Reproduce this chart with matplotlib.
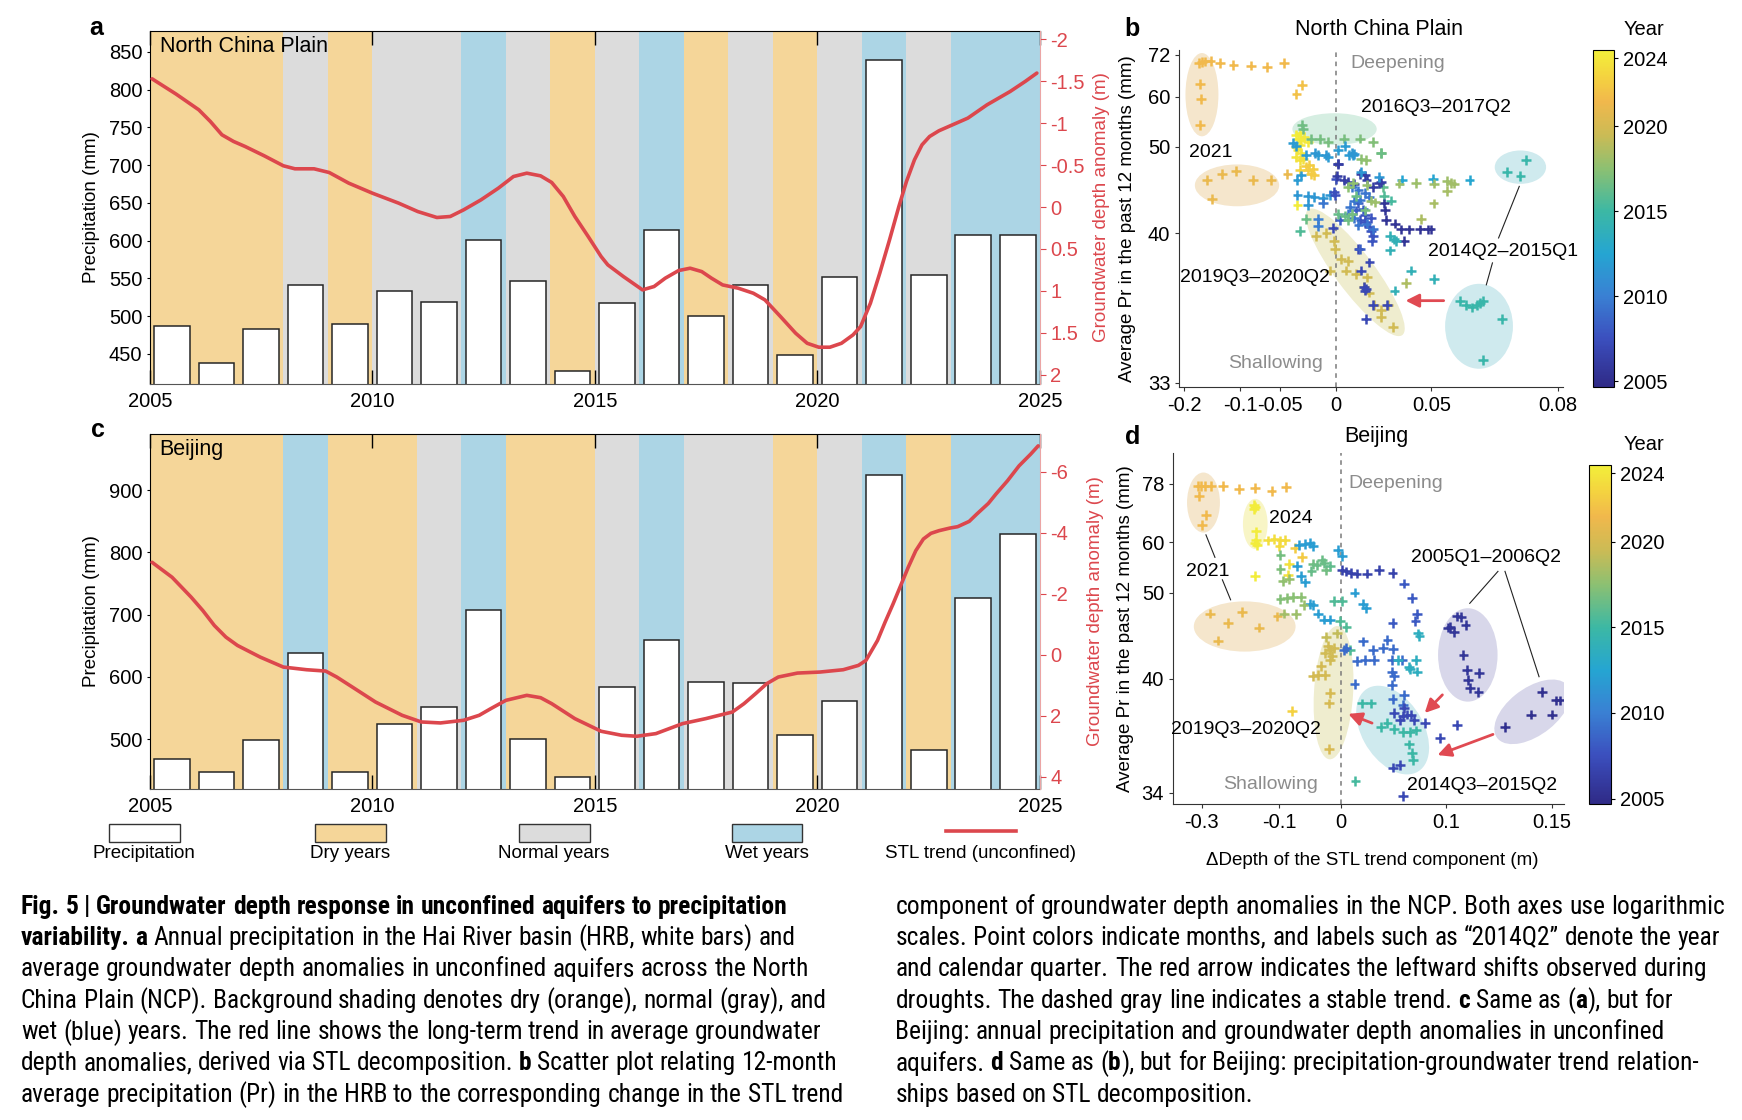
import numpy as np
import matplotlib
matplotlib.use("Agg")
import matplotlib.pyplot as plt
from matplotlib.patches import Ellipse, Rectangle, FancyArrowPatch
from matplotlib.lines import Line2D
from matplotlib.colors import LinearSegmentedColormap, Normalize
from matplotlib.ticker import NullLocator
from matplotlib import font_manager

plt.rcParams['font.family'] = ['Liberation Sans', 'DejaVu Sans']

# ---------------- data: annual precipitation and year classes ----------------
years = list(range(2005, 2025))
ncp_precip = [487, 438, 483, 541, 490, 533, 519, 601, 547, 427,
              517, 614, 500, 541, 449, 552, 839, 554, 608, 607]
ncp_class = ['dry', 'dry', 'dry', 'normal', 'dry', 'normal', 'normal', 'wet', 'normal', 'dry',
             'normal', 'wet', 'dry', 'normal', 'dry', 'normal', 'wet', 'normal', 'wet', 'wet']
bj_precip = [468, 448, 499, 638, 448, 524, 552, 708, 501, 439,
             584, 660, 592, 590, 506, 561, 924, 482, 727, 830]
bj_class = ['dry', 'dry', 'dry', 'wet', 'dry', 'dry', 'normal', 'wet', 'dry', 'dry',
            'normal', 'wet', 'normal', 'normal', 'dry', 'normal', 'wet', 'dry', 'wet', 'wet']

# STL trend of groundwater depth anomaly (m)
ncp_trend_year = [2005.05, 2005.59, 2006.10, 2006.36, 2006.62, 2006.88, 2007.14, 2007.57, 2008.00, 2008.26,
                  2008.69, 2009.03, 2009.47, 2010.00, 2010.59, 2011.02, 2011.45, 2011.75, 2012.05, 2012.44,
                  2012.83, 2013.17, 2013.47, 2013.78, 2014.03, 2014.29, 2014.55, 2014.85, 2015.14, 2015.29,
                  2015.64, 2016.07, 2016.33, 2016.58, 2016.88, 2017.14, 2017.40, 2017.62, 2017.87, 2018.22,
                  2018.56, 2018.82, 2019.17, 2019.51, 2019.77, 2020.03, 2020.28, 2020.54, 2020.80, 2020.97,
                  2021.19, 2021.40, 2021.62, 2021.83, 2022.00, 2022.18, 2022.35, 2022.52, 2022.73, 2022.95,
                  2023.38, 2023.81, 2024.33, 2024.67, 2024.93]
ncp_trend = [-1.527, -1.345, -1.158, -1.019, -0.860, -0.781, -0.721, -0.610, -0.491, -0.455,
             -0.455, -0.411, -0.284, -0.165, -0.046, 0.054, 0.125, 0.113, 0.034, -0.085,
             -0.224, -0.363, -0.403, -0.371, -0.292, -0.125, 0.113, 0.352, 0.590, 0.689,
             0.828, 0.987, 0.947, 0.848, 0.757, 0.729, 0.769, 0.848, 0.928, 0.967,
             1.027, 1.106, 1.305, 1.503, 1.623, 1.670, 1.670, 1.623, 1.523, 1.424,
             1.146, 0.789, 0.391, -0.006, -0.304, -0.562, -0.741, -0.840, -0.908, -0.959,
             -1.059, -1.217, -1.376, -1.496, -1.595]

bj_trend_year = [2005.05, 2005.50, 2005.93, 2006.19, 2006.45, 2006.71, 2006.97, 2007.48, 2008.00, 2008.52,
                 2008.95, 2009.20, 2009.55, 2010.07, 2010.67, 2011.10, 2011.53, 2012.05, 2012.40, 2012.66,
                 2013.00, 2013.47, 2013.78, 2014.03, 2014.55, 2015.14, 2015.60, 2015.94, 2016.37, 2016.97,
                 2017.49, 2018.09, 2018.35, 2018.61, 2018.86, 2019.12, 2019.55, 2020.06, 2020.58, 2020.92,
                 2021.09, 2021.35, 2021.52, 2021.70, 2021.87, 2022.04, 2022.21, 2022.38, 2022.55, 2022.73,
                 2022.98, 2023.15, 2023.41, 2023.58, 2023.84, 2024.01, 2024.27, 2024.53, 2024.79, 2024.96]
bj_trend = [-3.034, -2.543, -1.889, -1.453, -0.962, -0.580, -0.307, 0.074, 0.401, 0.488,
            0.532, 0.728, 1.056, 1.546, 1.983, 2.201, 2.233, 2.146, 1.983, 1.765,
            1.492, 1.328, 1.405, 1.601, 2.092, 2.506, 2.637, 2.670, 2.583, 2.255,
            2.092, 1.874, 1.601, 1.274, 0.947, 0.728, 0.598, 0.564, 0.488, 0.347,
            0.183, -0.471, -1.071, -1.671, -2.270, -2.870, -3.415, -3.797, -3.983, -4.070,
            -4.157, -4.201, -4.375, -4.615, -4.964, -5.269, -5.706, -6.196, -6.578, -6.851]

# ---------------- data: monthly scatter (delta depth, 12-month Pr, time) ----------------
ncp_dx = [
    -0.169, -0.164, -0.158, -0.148, -0.131, -0.110, -0.085, -0.065, -0.046, -0.168, -0.166, -0.168,
    -0.155, -0.128, -0.106, -0.082, -0.060, -0.145, -0.042,
    -0.033, -0.028,
    -0.0335, -0.030, -0.0315, -0.0285, -0.0255, -0.0225, -0.0335, -0.0295, -0.032, -0.0285, -0.0335,
    -0.030, -0.027, -0.0245, -0.022, -0.0196, -0.0167, -0.021, -0.018, -0.030, -0.032,
    -0.028, -0.027,
    -0.0196, -0.012, -0.0058, 0.006, 0.016, 0.0236, 0.028, 0.0169, 0.0196,
    -0.0365, -0.0335, -0.024, -0.014, -0.0058, 0.0015, 0.0066, 0.0094, 0.0118, -0.032, -0.0285,
    0.0015,
    -0.032, -0.022, -0.0167, -0.0097, -0.0045, -0.0225,
    0.0003, -0.0015, -0.0006,
    -0.024, -0.0295, -0.014, -0.0135,
    -0.0155, -0.007, -0.0015, -0.0003, 0.0035, -0.004, 0.0083, 0.0072, 0.0139, 0.0205, 0.0185, 0.0212,
    0.0243, 0.028, 0.0316, 0.0278, 0.034,
    -0.002, 0.0152, 0.0169, 0.0185, 0.0198, 0.0189, 0.0236, 0.0198, 0.0217, 0.031,
    0.028, 0.0382, 0.037, 0.0442, 0.0506, 0.0511, 0.0555, 0.0566, 0.0575, 0.0553, 0.0621, 0.0508,
    0.046, 0.0288, 0.0297, 0.0332,
    0.0295, 0.0301, 0.0307, 0.035, 0.0378, 0.0414, 0.0456, 0.0488, 0.0497, 0.0389,
    0.0324, 0.0346, 0.0353, 0.0324, 0.0419, 0.0509, 0.0347, 0.0400,
    0.0712, 0.0738, 0.0749, 0.0593, 0.0612, 0.0628, 0.0642, 0.0649, 0.0656, 0.0700, 0.0657,
    0.0015, 0.0006, 0.0058, 0.0086, 0.0126, 0.0164, 0.0189, 0.0200, 0.0236, 0.027, 0.028,
    0.0189, 0.0224, 0.0164, 0.0189, 0.0212, 0.0224, 0.0236, 0.0231,
    0.0152, 0.0139, 0.0179, 0.0029, 0.0159,
    0.010, 0.0126, 0.0164, 0.0189, 0.0212, 0.0113, 0.0152, -0.0094, 0.0086, 0.0126, 0.0152, 0.0200, 0.0236,
    -0.016, -0.0077, 0.0113, 0.0126, 0.027, 0.0169,
    0.0086, 0.0116, 0.020, 0.0113, 0.0086, 0.0224, 0.0247, 0.0189, 0.0139, 0.0064, 0.0015,
]
ncp_pr = [
    69.4, 69.6, 69.8, 69.9, 69.3, 68.7, 68.5, 68.0, 69.4, 63.1, 59.4, 53.8,
    45.3, 46.1, 46.5, 45.3, 45.3, 43.2, 46.1,
    60.7, 62.9,
    52.0, 52.3, 51.4, 51.1, 51.7, 50.8, 50.0, 50.3, 49.5, 49.0, 48.5,
    48.0, 48.2, 47.1, 46.6, 46.1, 45.9, 47.3, 46.8, 46.6, 42.5,
    53.8, 53.1,
    51.3, 51.3, 50.8, 51.4, 51.4, 50.8, 49.0, 48.2, 48.0,
    50.6, 50.1, 48.7, 48.7, 48.5, 49.5, 50.1, 48.7, 48.7, 45.3, 45.9,
    47.4,
    43.6, 43.5, 43.4, 43.3, 43.6, 42.5,
    45.5, 43.9, 43.6,
    41.2, 40.2, 41.2, 40.6,
    39.8, 40.0, 39.4, 38.8, 38.1, 37.4, 38.0, 37.4, 37.2, 37.0, 36.5, 36.2,
    35.6, 35.4, 35.6, 35.1, 34.7,
    40.4, 38.8, 37.4, 36.5, 36.4, 36.3, 35.6, 35.0, 37.9, 35.6,
    49.0, 45.3, 44.9, 45.0, 45.5, 44.9, 45.2, 45.0, 44.9, 44.0, 45.3, 42.7,
    41.2, 44.5, 43.5, 43.0,
    42.7, 42.0, 41.1, 40.8, 40.3, 40.3, 40.3, 40.3, 40.3, 39.4,
    39.8, 39.5, 39.4, 38.7, 37.4, 36.9, 36.3, 36.7,
    46.4, 45.8, 48.0, 35.8, 35.6, 35.5, 35.6, 35.7, 35.8, 35.0, 33.6,
    47.5, 45.8, 45.3, 45.1, 44.9, 46.1, 45.9, 45.3, 44.5, 45.0, 45.1,
    41.6, 41.3, 41.1, 40.9, 40.5, 40.2, 39.8, 39.4,
    42.7, 42.0, 42.1, 41.1, 38.8,
    42.3, 43.0, 43.1, 43.8, 43.4, 44.5, 44.1, 42.7, 41.7, 41.3, 40.7, 40.8, 40.3,
    49.0, 48.7, 49.0, 48.9, 45.7, 46.3,
    44.5, 45.0, 44.7, 41.7, 41.1, 43.0, 42.8, 42.0, 43.5, 41.5, 41.7,
]
ncp_year = ([2021.5] * 12 + [2021.1] * 7 + [2022.0] * 2
            + [2024.3, 2024.3, 2024.2, 2024.2, 2024.1, 2024.1, 2024.0, 2024.0, 2023.9, 2023.9, 2023.8,
               2023.7, 2023.6, 2022.6, 2022.5, 2022.5, 2022.4, 2022.6, 2022.5, 2022.9, 2024.3]
            + [2016.6] * 2
            + [2016.7, 2016.8, 2016.9, 2016.9, 2017.0, 2017.2, 2017.4, 2017.5, 2017.6]
            + [2011.8] * 11 + [2006.5] + [2011.5] * 6 + [2007.5] * 3
            + [2016.5, 2015.6, 2010.0, 2010.0]
            + [2019.8] * 17 + [2007.0] * 10
            + [2016.5, 2012.5, 2018.0, 2018.0, 2012.5, 2018.1, 2018.1, 2018.2, 2018.2, 2018.3, 2012.6,
               2018.4, 2018.5, 2016.2, 2015.7, 2015.3]
            + [2005.5] * 10 + [2014.0] * 7 + [2018.6] + [2014.7] * 11
            + [2006.2] * 11 + [2007.8] * 8 + [2008.3] * 5 + [2009.5] * 13 + [2011.5] * 6
            + [2017.5, 2017.6, 2017.8, 2016.8, 2016.6, 2017.9, 2018.0, 2016.9, 2016.5, 2016.4, 2016.3])

bj_dx = [
    -0.314, -0.304, -0.291, -0.271, -0.234, -0.192, -0.152, -0.116, -0.088, -0.308, -0.287, -0.300,
    -0.274, -0.221, -0.183, -0.143, -0.250, -0.104,
    -0.155, -0.152, -0.154, -0.150, -0.150, -0.152, -0.148, -0.152,
    -0.123, -0.110, -0.098, -0.090, -0.100, -0.071, -0.059, -0.082, -0.083,
    -0.064, -0.054, -0.046, -0.041, -0.067, -0.061, -0.053, -0.046, -0.040, -0.033, -0.024, -0.015,
    -0.0038, 0.0016, 0.017, 0.0266, 0.0304,
    -0.098, -0.098, -0.094, -0.082, -0.098, -0.086, -0.074, -0.060, -0.040, -0.035, -0.024, -0.021,
    -0.027, -0.043, -0.015, -0.091, -0.069, -0.056,
    -0.0094, 0.0016, 0.0069, -0.0011, 0.012,
    0.0016, 0.0069, 0.0126, 0.0193, 0.0312, 0.0444, 0.0574,
    0.0678, 0.0748, 0.0787, 0.0774, 0.0574,
    0.0266, 0.038, 0.0526, 0.0486, 0.0578, 0.0195, 0.0292, 0.039, 0.0566, 0.066, 0.0566, 0.0586,
    0.0566, 0.0574, 0.0678, 0.067, 0.017, 0.0043, 0.0069,
    0.0797, 0.0806, 0.078, 0.0787, 0.073, 0.0724, 0.0623,
    0.0258, 0.0358, 0.0466, 0.0526, 0.0586, 0.067, 0.073, 0.078, 0.0724, 0.0748, 0.0754, 0.0642,
    0.0582, 0.018,
    0.0586, 0.0642, 0.067, 0.0706, 0.074, 0.0764, 0.0678, 0.085, 0.0955, 0.1069, 0.067,
    -0.021, -0.018, -0.015, -0.022, -0.0122, -0.0094, -0.028, -0.033, -0.040, -0.022, -0.015, -0.016,
    -0.016, -0.076, -0.0049, -0.015,
    0.101, 0.1026, 0.1069, 0.1089, 0.1118, 0.1049, 0.1106, 0.1125, 0.1193, 0.113, 0.1142, 0.119,
    0.1318, 0.1428, 0.1468, 0.150, 0.1514, 0.1526,
]
bj_pr = [
    77.0, 77.0, 77.2, 77.2, 77.0, 76.0, 76.4, 75.4, 76.6, 73.6, 67.4, 64.5,
    46.9, 45.7, 47.1, 45.1, 43.6, 46.5,
    70.5, 69.8, 69.1, 62.7, 60.6, 59.9, 59.4, 52.8,
    60.4, 60.7, 60.4, 60.6, 59.1, 58.6, 56.7, 55.2, 53.1,
    59.4, 59.6, 59.7, 59.1, 54.7, 52.8, 51.7, 48.3, 48.1, 46.9, 46.1, 46.1,
    58.1, 56.9, 50.0, 48.2, 47.6,
    57.1, 54.2, 51.9, 52.3, 49.0, 49.2, 49.3, 49.3, 55.2, 55.0, 55.3, 54.0,
    56.0, 53.8, 54.7, 46.9, 46.8, 48.1,
    48.7, 48.7, 45.2, 45.9, 42.6,
    54.0, 53.7, 53.4, 53.3, 53.3, 54.0, 53.4,
    51.5, 49.2, 46.8, 45.9, 45.7,
    43.5, 42.6, 43.7, 42.8, 42.7, 41.5, 41.6, 41.6, 41.6, 41.6, 40.6, 40.2,
    39.5, 38.5, 38.8, 38.1, 39.6, 42.6, 42.8,
    44.4, 44.1, 41.6, 40.6, 40.8, 41.0, 41.6,
    38.2, 38.2, 36.8, 37.0, 36.7, 36.5, 36.5, 36.6, 35.9, 35.5, 35.2, 35.0,
    34.9, 34.4,
    37.6, 37.2, 37.4, 37.5, 37.5, 37.2, 37.9, 37.0, 36.2, 36.9, 33.9,
    44.0, 43.0, 42.6, 42.3, 42.0, 42.8, 41.1, 40.3, 40.2, 40.3, 38.9, 38.2,
    35.7, 37.7, 44.4, 41.6,
    45.1, 45.2, 46.5, 46.4, 45.4, 44.6, 42.1, 40.7, 40.5, 39.9, 39.3, 39.0,
    36.8, 37.5, 39.0, 37.5, 38.4, 38.4,
]
bj_year = ([2021.5] * 12 + [2021.1] * 6 + [2024.3] * 8
           + [2023.5, 2023.5, 2023.4, 2023.4, 2023.3, 2022.5, 2022.4, 2023.6, 2023.7]
           + [2012.0] * 17
           + [2016.8, 2017.0, 2017.6, 2017.8, 2017.2, 2017.3, 2017.4, 2017.5, 2016.6, 2016.5, 2016.4,
              2016.7, 2016.5, 2016.3, 2016.2, 2018.2, 2018.0, 2017.9]
           + [2015.6] * 5 + [2006.6] * 7 + [2008.0] * 5 + [2009.0] * 19 + [2013.5] * 7
           + [2014.9] * 11 + [2007.0, 2007.0, 2015.3]
           + [2007.0] * 11
           + [2019.3, 2019.8, 2019.8, 2019.8, 2019.8, 2019.8, 2019.9, 2019.9, 2019.9, 2019.9, 2020.0,
              2020.0, 2020.2, 2022.8, 2019.2, 2019.8]
           + [2005.6] * 12 + [2005.2] * 6)

# ---------------- style ----------------
shade = {'dry': '#f5d699', 'normal': '#dcdcdc', 'wet': '#acd5e5'}
red = '#dc474d'
ymin_c, ymax_c = 2004.67, 2024.49
# colour anchors (year, colour)
cbar_years = [2004.67, 2007.5, 2010.0, 2012.5, 2015.0, 2017.5, 2019.5, 2021.5, 2023.0, 2024.49]
cbar_colors = ['#2f2a86', '#3b4fbe', '#3a80d3', '#25a5d2', '#3cb8a4',
               '#8cc072', '#cbbb55', '#f1b84c', '#f4d43f', '#f2ef3a']
parula = LinearSegmentedColormap.from_list(
    'parula_like', [((y - ymin_c) / (ymax_c - ymin_c), c) for y, c in zip(cbar_years, cbar_colors)])
norm = Normalize(ymin_c, ymax_c)
TICK = 14.5
LAB = 13.5

fig = plt.figure(figsize=(17.42, 11.2), dpi=100)


def bar_panel(rect, precip, classes, t_year, t_val, ylim, yticks, ylim2, y2ticks, label, lab2x):
    ax = fig.add_axes(rect)
    for y, c in zip(years, classes):
        ax.axvspan(y, y + 1, color=shade[c], lw=0, zorder=0)
    ax.bar(np.array(years) + 0.5, precip, width=0.8, color='white',
           edgecolor='#262626', linewidth=1.1, zorder=2)
    ax.set_xlim(2005, 2025)
    ax.set_ylim(*ylim)
    ax.set_yticks(yticks)
    ax.set_xticks([2005, 2010, 2015, 2020, 2025])
    ax.tick_params(axis='x', direction='in', top=True, length=10, width=1, labelsize=TICK, pad=6)
    ax.tick_params(axis='y', direction='out', length=2, labelsize=TICK)
    ax.set_ylabel('Precipitation (mm)', fontsize=LAB)
    ax.yaxis.set_label_coords(-0.056, 0.5)
    ax.spines['right'].set_visible(False)
    ax.spines['bottom'].set_color('#555555')
    ax.text(0.011, 0.955, label, transform=ax.transAxes, fontsize=15.5, va='center', zorder=6)

    ax2 = ax.twinx()
    ax2.plot(t_year, t_val, color=red, lw=2.6, solid_capstyle='round', zorder=5)
    ax2.set_ylim(*ylim2)
    ax2.set_yticks(y2ticks)
    ax2.set_yticklabels([('%g' % v) for v in y2ticks])
    ax2.tick_params(axis='y', colors=red, direction='out', length=4, labelsize=TICK)
    for s in ['top', 'bottom', 'left']:
        ax2.spines[s].set_visible(False)
    ax2.spines['right'].set_color('#eba5a5')
    ax2.set_ylabel('Groundwater depth anomaly (m)', color=red, fontsize=LAB)
    ax2.yaxis.set_label_coords(lab2x, 0.5)
    return ax


bar_panel([0.086, 0.657, 0.511, 0.3156], ncp_precip, ncp_class, ncp_trend_year, ncp_trend,
          (410, 878), [450, 500, 550, 600, 650, 700, 750, 800, 850],
          (2.11, -2.10), [-2, -1.5, -1, -0.5, 0, 0.5, 1, 1.5, 2], 'North China Plain', 1.06)
bar_panel([0.086, 0.2955, 0.511, 0.317], bj_precip, bj_class, bj_trend_year, bj_trend,
          (420, 990), [500, 600, 700, 800, 900],
          (4.40, -7.24), [-6, -4, -2, 0, 2, 4], 'Beijing', 1.053)


def scatter_panel(rect, crect, dx, pr, yr, xoff, xlim, xticks, xlabels, ylim, yticks,
                  title, title_y, ellipses, texts, lines, arrows, ylab_x, year_pos):
    ax = fig.add_axes(rect)
    ax.set_xscale('function', functions=(
        lambda x: -np.log(np.clip(xoff - np.asarray(x, float), 1e-9, None)),
        lambda t: xoff - np.exp(-np.asarray(t, float))))
    ax.set_yscale('function', functions=(
        lambda y: np.log(np.clip(np.asarray(y, float) - 30, 1e-9, None)),
        lambda t: 30 + np.exp(np.asarray(t, float))))
    for (cx, cy, w, h, ang, col) in ellipses:
        ax.add_patch(Ellipse((cx, cy), w, h, angle=ang, transform=ax.transAxes,
                             facecolor=col, edgecolor='none', zorder=1))
    ax.axvline(0, color='#7a7a7a', ls=(0, (3, 3)), lw=1.1, zorder=2)
    sc = ax.scatter(dx, pr, c=yr, cmap=parula, norm=norm, marker='+', s=50,
                    linewidths=1.8, zorder=3)
    ax.set_xlim(*xlim)
    ax.set_ylim(*ylim)
    ax.set_xticks(xticks)
    ax.set_xticklabels(xlabels)
    ax.set_yticks(yticks)
    ax.set_yticklabels([str(v) for v in yticks])
    ax.xaxis.set_minor_locator(NullLocator())
    ax.yaxis.set_minor_locator(NullLocator())
    ax.tick_params(labelsize=TICK, length=3, color='#333333')
    for s in ['top', 'right']:
        ax.spines[s].set_visible(False)
    for s in ['left', 'bottom']:
        ax.spines[s].set_color('#333333')
    ax.set_ylabel('Average Pr in the past 12 months (mm)', fontsize=LAB)
    ax.yaxis.set_label_coords(ylab_x, 0.5)
    ax.text(0.52, title_y, title, transform=ax.transAxes, ha='center', va='center', fontsize=15.5)
    ax.text(0.57, texts[0], 'Deepening', transform=ax.transAxes, ha='center', va='center',
            fontsize=14, color='#8c8c8c')
    ax.text(0.25, texts[1], 'Shallowing', transform=ax.transAxes, ha='center', va='center',
            fontsize=14, color='#8c8c8c')
    for (tx, ty, s) in texts[2]:
        ax.text(tx, ty, s, transform=ax.transAxes, ha='center', va='center', fontsize=14, zorder=6)
    for (x0, y0, x1, y1) in lines:
        ax.add_line(Line2D([x0, x1], [y0, y1], transform=ax.transAxes, color='#222222', lw=0.8, zorder=4))
    for (x0, y0, x1, y1) in arrows:
        ax.add_patch(FancyArrowPatch((x0, y0), (x1, y1), transform=ax.transAxes, arrowstyle='-|>',
                                     mutation_scale=20, color='#e04a52', lw=2, zorder=5))
    cax = fig.add_axes(crect)
    cb = fig.colorbar(sc, cax=cax)
    cb.set_ticks([2005, 2010, 2015, 2020, 2024])
    cb.ax.tick_params(labelsize=TICK, length=3)
    cb.outline.set_linewidth(0.8)
    fig.text(year_pos[0], year_pos[1], 'Year', fontsize=14.5, ha='center', va='center')
    return ax


ell_orange = '#f5e6cc'
ell_green = '#d6eee2'
ell_olive = '#efedcf'
ell_cyan = '#cfeaee'
ell_yellow = '#f8f5c6'
ell_navy = '#d8d7ea'

scatter_panel(
    [0.677, 0.6545, 0.22, 0.301], [0.9145, 0.6545, 0.012, 0.301],
    ncp_dx, ncp_pr, ncp_year, 0.1, (-0.211, 0.0807),
    [-0.2, -0.1, -0.05, 0, 0.05, 0.08], ['-0.2', '-0.1', '-0.05', '0', '0.05', '0.08'],
    (32.9, 73.7), [33, 40, 50, 60, 72], 'North China Plain', 1.06,
    [(0.059, 0.867, 0.086, 0.247, 0, ell_orange),
     (0.1505, 0.598, 0.22, 0.124, 0, ell_orange),
     (0.405, 0.765, 0.22, 0.094, 0, ell_green),
     (0.459, 0.340, 0.446, 0.105, -57, ell_olive),
     (0.890, 0.652, 0.134, 0.099, 0, ell_cyan),
     (0.782, 0.180, 0.177, 0.252, 0, ell_cyan)],
    (0.958, 0.069, [(0.081, 0.696, '2021'), (0.669, 0.830, '2016Q3\u20132017Q2'),
                    (0.196, 0.326, '2019Q3\u20132020Q2'), (0.844, 0.402, '2014Q2\u20132015Q1')]),
    [(0.887, 0.595, 0.833, 0.442), (0.817, 0.368, 0.801, 0.303)],
    [(0.697, 0.256, 0.583, 0.256)],
    -0.114, (0.944, 0.974))

axd = scatter_panel(
    [0.6734, 0.282, 0.2247, 0.3135], [0.912, 0.282, 0.013, 0.303],
    bj_dx, bj_pr, bj_year, 0.2, (-0.404, 0.154),
    [-0.3, -0.1, 0, 0.1, 0.15], ['-0.3', '-0.1', '0', '0.1', '0.15'],
    (33.65, 91.4), [34, 40, 50, 60, 78], 'Beijing', 1.047,
    [(0.0777, 0.859, 0.084, 0.171, 0, ell_orange),
     (0.183, 0.506, 0.26, 0.143, 0, ell_orange),
     (0.210, 0.798, 0.063, 0.143, 0, ell_yellow),
     (0.410, 0.3175, 0.10, 0.38, -3, ell_olive),
     (0.561, 0.211, 0.27, 0.16, -64, ell_cyan),
     (0.753, 0.425, 0.152, 0.266, 0, ell_navy),
     (0.918, 0.263, 0.234, 0.13, 42, ell_navy)],
    (0.914, 0.056, [(0.301, 0.813, '2024'), (0.089, 0.664, '2021'),
                    (0.800, 0.703, '2005Q1\u20132006Q2'), (0.186, 0.213, '2019Q3\u20132020Q2'),
                    (0.790, 0.052, '2014Q3\u20132015Q2')]),
    [(0.084, 0.767, 0.107, 0.703), (0.126, 0.639, 0.147, 0.582),
     (0.830, 0.663, 0.758, 0.572), (0.848, 0.663, 0.935, 0.363)],
    [(0.515, 0.228, 0.441, 0.260), (0.693, 0.317, 0.638, 0.254), (0.824, 0.2015, 0.669, 0.137)],
    -0.10, (0.944, 0.603))
axd.set_xlabel('\u0394Depth of the STL trend component (m)', fontsize=LAB)
axd.xaxis.set_label_coords(0.51, -0.137)

# panel letters
for x, y, s in [(0.055, 0.975, 'a'), (0.650, 0.974, 'b'), (0.056, 0.616, 'c'), (0.650, 0.610, 'd')]:
    fig.text(x, y, s, fontsize=18, fontweight='bold', ha='center', va='center')

# legend row
leg_items = [('Precipitation', 'white', 0.0627), ('Dry years', shade['dry'], 0.181),
             ('Normal years', shade['normal'], 0.298), ('Wet years', shade['wet'], 0.420)]
for name, col, x0 in leg_items:
    fig.add_artist(Rectangle((x0, 0.248), 0.0405, 0.016, transform=fig.transFigure,
                             facecolor=col, edgecolor='#333333', lw=1))
    fig.text(x0 + 0.02, 0.2375, name, fontsize=13.5, ha='center', va='center')
fig.add_artist(Line2D([0.543, 0.583], [0.258, 0.258], transform=fig.transFigure, color=red, lw=2.6))
fig.text(0.563, 0.2375, 'STL trend (unconfined)', fontsize=13.5, ha='center', va='center')

# ---------------- caption ----------------
entries = font_manager.fontManager.ttflist
cap_font, cap_stretch = 'Liberation Sans', 'normal'
for fam, stretch in [('Liberation Sans Narrow', 'normal'), ('Roboto Condensed', 'normal'),
                     ('Open Sans Condensed', 'normal'), ('DejaVu Sans', 'condensed'),
                     ('Noto Sans', 'condensed'), ('Roboto', 'condensed')]:
    if any(f.name == fam and (stretch == 'normal' or str(f.stretch) == stretch) for f in entries):
        cap_font, cap_stretch = fam, stretch
        break

left_lines = [
    "**Fig. 5 | Groundwater depth response in unconfined aquifers to precipitation**",
    "**variability. a** Annual precipitation in the Hai River basin (HRB, white bars) and",
    "average groundwater depth anomalies in unconfined aquifers across the North",
    "China Plain (NCP). Background shading denotes dry (orange), normal (gray), and",
    "wet (blue) years. The red line shows the long-term trend in average groundwater",
    "depth anomalies, derived via STL decomposition. **b** Scatter plot relating 12-month",
    "average precipitation (Pr) in the HRB to the corresponding change in the STL trend",
]
right_lines = [
    "component of groundwater depth anomalies in the NCP. Both axes use logarithmic",
    "scales. Point colors indicate months, and labels such as \u201c2014Q2\u201d denote the year",
    "and calendar quarter. The red arrow indicates the leftward shifts observed during",
    "droughts. The dashed gray line indicates a stable trend. **c** Same as (**a**), but for",
    "Beijing: annual precipitation and groundwater depth anomalies in unconfined",
    "aquifers. **d** Same as (**b**), but for Beijing: precipitation-groundwater trend relation-",
    "ships based on STL decomposition.",
]

renderer = fig.canvas.get_renderer()
W = fig.bbox.width


def parse(line):
    words = []
    bold = False
    for word in line.split(' '):
        segs = []
        parts = word.split('**')
        for i, p in enumerate(parts):
            if i > 0:
                bold = not bold
            if p:
                segs.append((p, bold))
        words.append(segs)
    return words


def seg_width(s, b, size):
    t = fig.text(0, 0, s, fontsize=size, family=cap_font, fontstretch=cap_stretch,
                 fontweight='bold' if b else 'normal')
    w = t.get_window_extent(renderer).width
    t.remove()
    return w


# pick the caption size so the widest line just fills its column
probe = 10.0
space_w = seg_width('a a', False, probe) - seg_width('aa', False, probe)
fits = []
for lines, colw in [(left_lines, 0.4805), (right_lines, 0.4815)]:
    for line in lines:
        words = parse(line)
        nat = sum(seg_width(s, b, probe) for segs in words for s, b in segs) + space_w * (len(words) - 1)
        fits.append(colw * W / nat)
cap_size = probe * min(fits) * 0.985


def draw_caption(lines, x0, y0, dy):
    gap = space_w * cap_size / probe
    for i, line in enumerate(lines):
        words = parse(line)
        xc = x0 * W
        y = y0 - i * dy
        for segs in words:
            for s, b in segs:
                fig.text(xc / W, y, s, fontsize=cap_size, family=cap_font, fontstretch=cap_stretch,
                         fontweight='bold' if b else 'normal', va='center', ha='left')
                xc += seg_width(s, b, cap_size)
            xc += gap


draw_caption(left_lines, 0.012, 0.1905, 0.028)
draw_caption(right_lines, 0.514, 0.1905, 0.028)

fig.savefig('out.png', dpi=100)
